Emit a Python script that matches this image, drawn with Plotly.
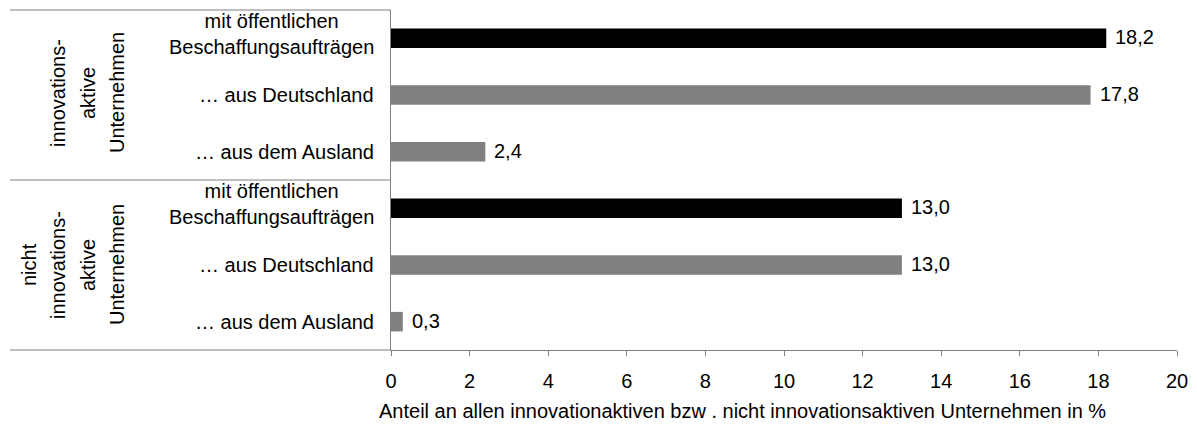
import plotly.graph_objects as go

# ---- data ----
groups = ["innovations-|aktive|Unternehmen", "nicht|innovations-|aktive|Unternehmen"]
sub_labels = ["mit öffentlichen|Beschaffungsaufträgen", "… aus Deutschland", "… aus dem Ausland"]
values = [18.2, 17.8, 2.4, 13.0, 13.0, 0.3]
bar_colors = ["#000000", "#808080", "#808080", "#000000", "#808080", "#808080"]
x_ticks = [0, 2, 4, 6, 8, 10, 12, 14, 16, 18, 20]
x_title = "Anteil an allen innovationaktiven bzw . nicht innovationsaktiven Unternehmen in %"

# ---- layout geometry (pixels) ----
W, H = 1197, 426
L, R, T, B = 391, 20, 10, 76
PW, PH = W - L - R, H - T - B
LINE = "#808080"
FONT = "Liberation Sans, Arial, sans-serif"


def px(xp):
    return (xp - L) / PW


def py(yp):
    return (H - B - yp) / PH


positions = list(range(len(values)))
labels_txt = [f"{v:.1f}".replace(".", ",") for v in values]

fig = go.Figure()
fig.add_trace(go.Bar(
    x=values, y=positions, orientation="h",
    marker=dict(color=bar_colors, line=dict(width=0)),
    width=0.345, hoverinfo="skip",
))

ann = []
# value labels
for v, p, t in zip(values, positions, labels_txt):
    ann.append(dict(x=v, y=p, xref="x", yref="y", text=t, showarrow=False,
                    xanchor="left", yanchor="middle", xshift=7, yshift=1,
                    font=dict(size=20)))

# sub-category labels (right column of the table)
for g in range(len(groups)):
    for k, lab in enumerate(sub_labels):
        p = g * len(sub_labels) + k
        parts = lab.split("|")
        if len(parts) == 1:
            ann.append(dict(x=px(376), y=p, xref="paper", yref="y", text=lab,
                            showarrow=False, xanchor="right", yanchor="middle",
                            font=dict(size=20)))
        else:
            ann.append(dict(x=px(376), y=p, xref="paper", yref="y",
                            text="<br>".join(parts), align="center",
                            showarrow=False, xanchor="right", yanchor="middle",
                            yshift=4, font=dict(size=20)))

# group labels (rotated)
group_cols = [[58, 88, 117], [29, 58, 88, 117]]
group_centers = [93, 265]
for g, lab in enumerate(groups):
    for line, xc in zip(lab.split("|"), group_cols[g]):
        ann.append(dict(x=px(xc), y=py(group_centers[g]), xref="paper", yref="paper",
                        text=line, textangle=-90, showarrow=False,
                        xanchor="center", yanchor="middle", font=dict(size=20)))

# x axis title
ann.append(dict(x=px(742), y=py(411), xref="paper", yref="paper", text=x_title,
                showarrow=False, xanchor="center", yanchor="middle", font=dict(size=20)))

shapes = [
    dict(type="line", xref="paper", yref="paper", x0=px(10), x1=0, y0=1, y1=1,
         line=dict(color=LINE, width=1)),
    dict(type="line", xref="paper", yref="y", x0=px(10), x1=0, y0=2.5, y1=2.5,
         line=dict(color=LINE, width=1)),
    dict(type="line", xref="paper", yref="paper", x0=px(10), x1=0, y0=0, y1=0,
         line=dict(color=LINE, width=1)),
]

fig.update_layout(
    width=W, height=H,
    margin=dict(l=L, r=R, t=T, b=B, pad=0),
    paper_bgcolor="white", plot_bgcolor="white",
    showlegend=False,
    font=dict(family=FONT, size=20, color="black"),
    annotations=ann, shapes=shapes,
    xaxis=dict(range=[0, 20], tickvals=x_ticks, ticktext=[str(t) for t in x_ticks],
               ticks="outside", ticklen=5, tickcolor=LINE, tickwidth=1,
               showline=True, linecolor=LINE, linewidth=1,
               showgrid=False, zeroline=False, ticklabelstandoff=8,
               tickfont=dict(size=20)),
    yaxis=dict(range=[5.5, -0.5], showticklabels=False, showgrid=False,
               zeroline=False, showline=True, linecolor=LINE, linewidth=1, ticks=""),
)

fig.write_html(
    "out.html",
    config={"displayModeBar": False},
    post_script="document.body.style.margin='0';document.body.style.overflow='hidden';",
)
